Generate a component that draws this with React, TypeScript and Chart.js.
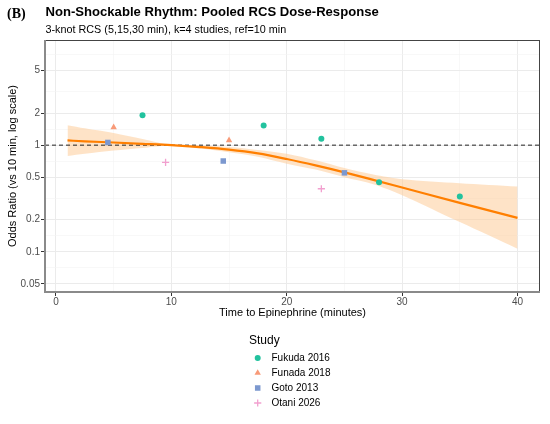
import { useEffect, useRef } from "react";
import { Chart, registerables } from "chart.js";

Chart.register(...registerables);

// fitted curve (pooled RCS) and its 95% band
const curveTime = [1, 2.5, 5, 7.5, 10, 12.5, 15, 17.5, 20, 22.5, 25, 27.5, 30, 35, 40];
const curveOR = [1.107, 1.086, 1.059, 1.03, 1.0, 0.959, 0.908, 0.836, 0.741, 0.646, 0.556, 0.473, 0.401, 0.288, 0.208];
const upperOR = [1.54, 1.44, 1.3, 1.14, 1.0, 0.99, 0.96, 0.9, 0.83, 0.72, 0.61, 0.53, 0.48, 0.44, 0.41];
const lowerOR = [0.79, 0.83, 0.89, 0.94, 1.0, 0.93, 0.86, 0.78, 0.67, 0.59, 0.5, 0.43, 0.34, 0.19, 0.107];

// study-level points
const studyNames = ["Fukuda 2016", "Funada 2018", "Goto 2013", "Otani 2026"];
const fukudaTime = [7.5, 18, 23, 28, 35];
const fukudaOR = [1.91, 1.53, 1.15, 0.45, 0.33];
const funadaTime = [5, 15];
const funadaOR = [1.47, 1.11];
const gotoTime = [4.5, 14.5, 25];
const gotoOR = [1.06, 0.71, 0.55];
const otaniTime = [9.5, 23];
const otaniOR = [0.69, 0.39];

const xMajor = [0, 10, 20, 30, 40];
const xMinor = [5, 15, 25, 35];
const yMajor = [0.05, 0.1, 0.2, 0.5, 1, 2, 5];
const yMinor = [0.0707, 0.1414, 0.3162, 0.7071, 1.4142, 3.1623, 7.0711];
const refOR = 1;

const FONT = "'Liberation Sans', Arial, sans-serif";
const colors = ["#22C29E", "#F89A78", "#7C98CF", "#F2A0CF"];
const styles = ["circle", "triangle", "rect", "cross"];
const radii = [3, 3.7, 3.9, 3.6];

const toPts = (xs: number[], ys: number[]) => xs.map((x, i) => ({ x, y: ys[i] }));

function drawSymbol(ctx: CanvasRenderingContext2D, i: number, x: number, y: number) {
  const r = radii[i];
  ctx.save();
  ctx.fillStyle = colors[i];
  ctx.strokeStyle = colors[i];
  ctx.lineWidth = 1.3;
  ctx.beginPath();
  if (styles[i] === "circle") {
    ctx.arc(x, y, r, 0, Math.PI * 2);
    ctx.fill();
  } else if (styles[i] === "triangle") {
    ctx.moveTo(x, y - r);
    ctx.lineTo(x + r * 0.866, y + r * 0.5);
    ctx.lineTo(x - r * 0.866, y + r * 0.5);
    ctx.closePath();
    ctx.fill();
  } else if (styles[i] === "rect") {
    const s = r * Math.SQRT1_2;
    ctx.rect(x - s, y - s, 2 * s, 2 * s);
    ctx.fill();
  } else {
    ctx.moveTo(x - r, y);
    ctx.lineTo(x + r, y);
    ctx.moveTo(x, y - r);
    ctx.lineTo(x, y + r);
    ctx.stroke();
  }
  ctx.restore();
}

const decorations = {
  id: "decorations",
  afterDatasetDraw(chart: any, args: any) {
    // dashed reference line, drawn over the band but under the curve
    if (args.index !== 5) return;
    const { ctx, chartArea } = chart;
    const y = chart.scales.y.getPixelForValue(refOR);
    ctx.save();
    ctx.strokeStyle = "#222";
    ctx.lineWidth = 1;
    ctx.setLineDash([4, 3]);
    ctx.beginPath();
    ctx.moveTo(chartArea.left, y);
    ctx.lineTo(chartArea.right, y);
    ctx.stroke();
    ctx.restore();
  },
  afterDraw(chart: any) {
    const { ctx, chartArea } = chart;
    const { left, right, top, bottom } = chartArea;
    ctx.save();
    // panel border
    ctx.strokeStyle = "#444";
    ctx.lineWidth = 1;
    ctx.strokeRect(left + 0.5, top + 0.5, right - left - 1, bottom - top - 1);
    ctx.strokeStyle = "#8a8a8a";
    ctx.lineWidth = 2;
    ctx.beginPath();
    ctx.moveTo(left, top);
    ctx.lineTo(left, bottom);
    ctx.lineTo(right, bottom);
    ctx.stroke();

    ctx.fillStyle = "#000";
    ctx.textBaseline = "alphabetic";
    ctx.textAlign = "left";
    ctx.font = "bold 14px 'Liberation Serif', serif";
    ctx.fillText("(B)", 7, 17.5);
    ctx.font = `bold 13.1px ${FONT}`;
    ctx.fillText("Non-Shockable Rhythm: Pooled RCS Dose-Response", 45.5, 15.8);
    ctx.font = `10.8px ${FONT}`;
    ctx.fillText("3-knot RCS (5,15,30 min), k=4 studies, ref=10 min", 45.5, 33.3);

    // axis titles
    ctx.font = `11px ${FONT}`;
    ctx.textAlign = "center";
    ctx.textBaseline = "middle";
    ctx.fillText("Time to Epinephrine (minutes)", (left + right) / 2, 313);
    ctx.save();
    ctx.translate(13, (top + bottom) / 2);
    ctx.rotate(-Math.PI / 2);
    ctx.fillText("Odds Ratio (vs 10 min, log scale)", 0, 0);
    ctx.restore();

    // legend
    ctx.textAlign = "left";
    ctx.font = `12px ${FONT}`;
    ctx.fillText("Study", 249, 341);
    ctx.font = `10px ${FONT}`;
    studyNames.forEach((name, i) => {
      const y = 358 + i * 15;
      drawSymbol(ctx, i, 257.7, y);
      ctx.fillStyle = "#000";
      ctx.fillText(name, 271.5, y);
    });
    ctx.restore();
  },
};

const gridColor = (major: number[]) => (c: any) =>
  major.includes(c.tick?.value) ? "#EBEBEB" : "#F3F3F3";
const tickColor = (major: number[]) => (c: any) =>
  major.includes(c.tick?.value) ? "#333" : "rgba(0,0,0,0)";

export const DoseResponseChart = () => {
  const chartRef = useRef<HTMLCanvasElement | null>(null);
  const chartInstanceRef = useRef<Chart | null>(null);

  useEffect(() => {
    if (!chartRef.current) return;
    if (chartInstanceRef.current) chartInstanceRef.current.destroy();
    const ctx = chartRef.current.getContext("2d");
    if (!ctx) return;

    const studyX = [fukudaTime, funadaTime, gotoTime, otaniTime];
    const studyY = [fukudaOR, funadaOR, gotoOR, otaniOR];

    chartInstanceRef.current = new Chart(ctx, {
      type: "scatter",
      data: {
        datasets: [
          ...studyNames.map((name, i) => ({
            type: "scatter" as const,
            label: name,
            data: toPts(studyX[i], studyY[i]),
            pointStyle: styles[i],
            pointRadius: radii[i],
            backgroundColor: colors[i],
            borderColor: colors[i],
            borderWidth: styles[i] === "cross" ? 1.3 : 0,
            order: 0,
          })),
          {
            type: "line" as const,
            label: "lower",
            data: toPts(curveTime, lowerOR),
            borderWidth: 0,
            borderColor: "rgba(0,0,0,0)",
            pointRadius: 0,
            fill: false,
            tension: 0.3,
            order: 3,
          },
          {
            type: "line" as const,
            label: "upper",
            data: toPts(curveTime, upperOR),
            borderWidth: 0,
            borderColor: "rgba(0,0,0,0)",
            backgroundColor: "rgba(254,204,153,0.55)",
            pointRadius: 0,
            fill: 4,
            tension: 0.3,
            order: 2,
          },
          {
            type: "line" as const,
            label: "fit",
            data: toPts(curveTime, curveOR),
            borderColor: "#FF7F00",
            borderWidth: 2.2,
            pointRadius: 0,
            fill: false,
            cubicInterpolationMode: "monotone" as const,
            order: 1,
          },
        ],
      },
      options: {
        animation: false,
        responsive: false,
        maintainAspectRatio: false,
        layout: { padding: { left: 0, top: 40, right: 10, bottom: 112 } },
        plugins: {
          legend: { display: false },
          tooltip: { enabled: false },
          title: { display: false },
        },
        scales: {
          x: {
            type: "linear",
            min: -0.95,
            max: 41.95,
            afterBuildTicks: (s: any) => {
              s.ticks = [...xMajor, ...xMinor].sort((a, b) => a - b).map((v) => ({ value: v }));
            },
            afterFit: (s: any) => {
              s.height = 20;
            },
            ticks: {
              autoSkip: false,
              maxRotation: 0,
              padding: 0,
              color: "#4D4D4D",
              font: { family: FONT, size: 10 },
              callback: (v: any) => (xMajor.includes(Number(v)) ? String(v) : ""),
            },
            grid: {
              color: gridColor(xMajor),
              lineWidth: (c: any) => (xMajor.includes(c.tick?.value) ? 1 : 0.6),
              tickColor: tickColor(xMajor),
              tickLength: 4,
            },
            border: { display: false },
          },
          y: {
            type: "logarithmic",
            min: 0.042,
            max: 9.68,
            afterBuildTicks: (s: any) => {
              s.ticks = [...yMajor, ...yMinor].sort((a, b) => a - b).map((v) => ({ value: v }));
            },
            afterFit: (s: any) => {
              s.width = 45;
            },
            ticks: {
              autoSkip: false,
              padding: 1,
              color: "#4D4D4D",
              font: { family: FONT, size: 10 },
              callback: (v: any) => (yMajor.includes(Number(v)) ? String(v) : ""),
            },
            grid: {
              color: gridColor(yMajor),
              lineWidth: (c: any) => (yMajor.includes(c.tick?.value) ? 1 : 0.6),
              tickColor: tickColor(yMajor),
              tickLength: 4,
            },
            border: { display: false },
          },
        },
      },
      plugins: [decorations],
    });

    return () => {
      if (chartInstanceRef.current) {
        chartInstanceRef.current.destroy();
        chartInstanceRef.current = null;
      }
    };
  }, []);

  return (
    <div style={{ position: "fixed", left: 0, top: 0, width: "550px", height: "424px", background: "#fff" }}>
      <canvas ref={chartRef} width={550} height={424} style={{ width: "550px", height: "424px" }}></canvas>
    </div>
  );
};

export default function App() {
  return <DoseResponseChart />;
}
